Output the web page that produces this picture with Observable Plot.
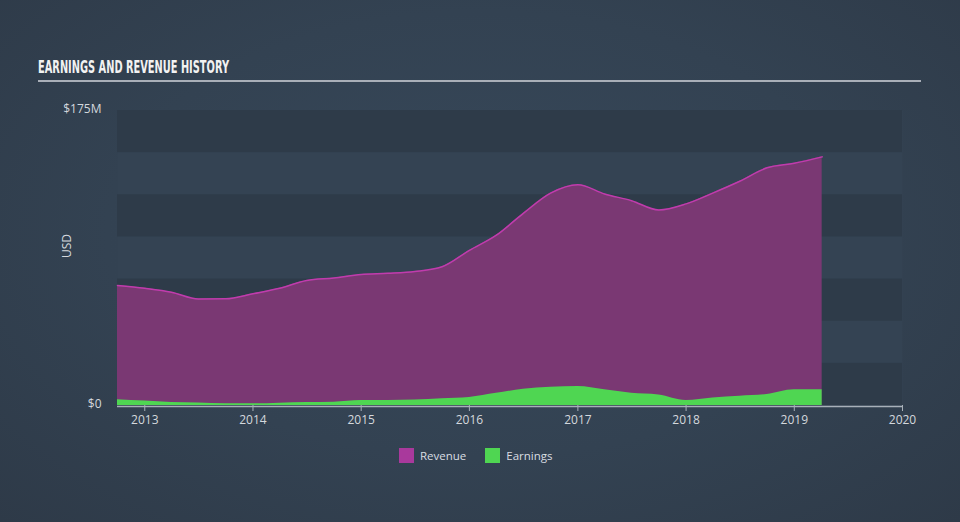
<!DOCTYPE html>
<html>
<head>
<meta charset="utf-8">
<script src="https://cdn.jsdelivr.net/npm/d3@7"></script>
<script src="https://cdn.jsdelivr.net/npm/@observablehq/plot@0.6"></script>
<style>
  html, body { margin: 0; padding: 0; }
  body { width: 960px; height: 522px; overflow: hidden;
         background: radial-gradient(ellipse at 50% 45%, #37485a 0%, #334252 55%, #2e3a48 100%);
         font-family: "Open Sans", Lato, sans-serif; position: relative; }
  #title { position: absolute; left: 38px; top: 56px; color: #f2f2f2; white-space: nowrap;
           font-family: "Liberation Sans Narrow", "DejaVu Sans Condensed", "DejaVu Sans", sans-serif;
           font-weight: bold; font-size: 18px; transform-origin: 0 0; }
  #rule { position: absolute; left: 38px; top: 80px; width: 883px; height: 2px; background: #a9afb8; }
  #chart { position: absolute; left: 0; top: 95px; }
  #legend { position: absolute; top: 448px; left: 399px; display: flex; align-items: center;
            color: #d9dde2; font-size: 11.5px; }
  .sw { width: 15px; height: 15px; display: inline-block; margin-right: 6px; }
  .item { display: flex; align-items: center; margin-right: 19px; }
</style>
</head>
<body>
<div id="title">EARNINGS AND REVENUE HISTORY</div>
<div id="rule"></div>
<div id="chart"></div>
<div id="legend"></div>
<script>
// ---- data (USD millions) ----
const dates = ["2012-10-01","2013-01-01","2013-04-01","2013-07-01","2013-10-01",
               "2014-01-01","2014-04-01","2014-07-01","2014-10-01",
               "2015-01-01","2015-04-01","2015-07-01","2015-10-01",
               "2016-01-01","2016-04-01","2016-07-01","2016-10-01",
               "2017-01-01","2017-04-01","2017-07-01","2017-10-01",
               "2018-01-01","2018-04-01","2018-07-01","2018-10-01",
               "2019-01-01","2019-04-05"];
const revenue = [71.2, 69.5, 67.2, 63.2, 63.3,
                 66.3, 69.5, 74.2, 75.7,
                 77.7, 78.4, 79.5, 82.3,
                 92.0, 101.0, 114.0, 126.0,
                 131.0, 125.5, 121.5, 116.0,
                 119.6, 126.0, 133.0, 141.0,
                 143.7, 147.5];
const earnings = [3.4, 2.6, 1.8, 1.5, 1.0,
                  1.0, 1.4, 1.8, 2.0,
                  3.0, 3.0, 3.2, 4.0,
                  4.8, 7.2, 9.6, 10.8,
                  11.3, 9.3, 7.3, 6.3,
                  3.0, 4.5, 5.5, 6.5,
                  9.3, 9.3];
const yTicks = [0, 25, 50, 75, 100, 125, 150, 175];
const yLabelTicks = [0, 175];
const xTickYears = ["2013","2014","2015","2016","2017","2018","2019","2020"];
const xDomain = ["2012-10-01", "2020-01-01"];
const seriesNames = ["Revenue", "Earnings"];
const seriesColors = ["#a9399c", "#4fd652"];

const rows = dates.map((d, i) => ({date: new Date(d), revenue: revenue[i], earnings: earnings[i]}));
const bands = d3.range(0, yTicks.length - 1, 2).map(i => ({y1: yTicks[i], y2: yTicks[i + 1]}));
const xTicks = xTickYears.map(y => new Date(y + "-01-01"));

const plot = Plot.plot({
  width: 960,
  height: 340,
  marginLeft: 117,
  marginRight: 58,
  marginTop: 15,
  marginBottom: 30,
  style: {background: "transparent", fontFamily: "'Open Sans', Lato, sans-serif", fontSize: "12px", color: "#d4d8dd"},
  x: {type: "utc", domain: xDomain.map(d => new Date(d))},
  y: {domain: [0, 175]},
  marks: [
    Plot.frame({fill: "#344353", stroke: null}),
    Plot.rectY(bands, {y1: "y1", y2: "y2", fill: "#2e3b49", x1: () => new Date(xDomain[0]), x2: () => new Date(xDomain[1])}),
    Plot.areaY(rows, {x: "date", y: "revenue", fill: "#7a3873", curve: "monotone-x"}),
    Plot.lineY(rows, {x: "date", y: "revenue", stroke: "#c03cad", strokeWidth: 1.5, curve: "monotone-x"}),
    Plot.areaY(rows, {x: "date", y: "earnings", fill: "#4fd652", curve: "monotone-x"}),
    Plot.ruleY([0], {stroke: "#a8b0b9", strokeWidth: 1.5, dy: 1}),
    Plot.axisX({ticks: xTicks, tickFormat: d3.utcFormat("%Y"), tickSize: 6, stroke: "#a8b0b9", tickPadding: 4, fill: "#d4d8dd", label: null}),
    Plot.axisY({ticks: yLabelTicks, tickSize: 0, tickPadding: 16, tickFormat: d => d === 0 ? "$0" : `$${d}M`, fill: "#d4d8dd", label: null, dy: -1}),
    Plot.text(["USD"], {frameAnchor: "left", dx: -50, rotate: -90, fill: "#d4d8dd", fontSize: 12})
  ]
});
document.getElementById("chart").appendChild(plot);

// fit the condensed title to the reference width
const title = document.getElementById("title");
const tw = title.getBoundingClientRect().width;
title.style.transform = `scaleX(${191 / tw})`;

const legend = document.getElementById("legend");
seriesNames.forEach((n, i) => {
  const item = document.createElement("div");
  item.className = "item";
  const sw = document.createElement("span");
  sw.className = "sw";
  sw.style.background = seriesColors[i];
  item.appendChild(sw);
  item.appendChild(document.createTextNode(n));
  legend.appendChild(item);
});
</script>
</body>
</html>
